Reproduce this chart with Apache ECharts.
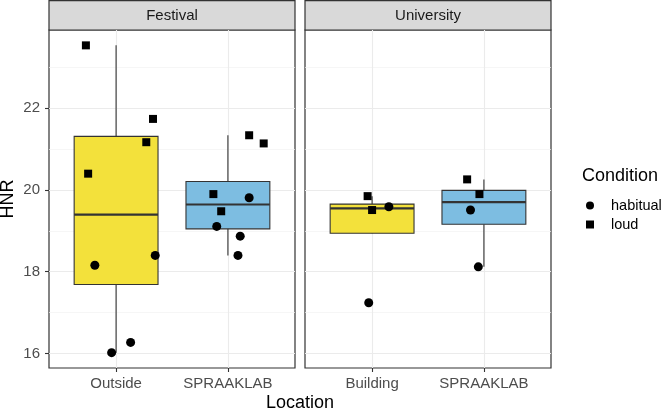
<!DOCTYPE html>
<html>
<head>
<meta charset="utf-8">
<script src="https://cdn.jsdelivr.net/npm/echarts@6/dist/echarts.min.js"></script>
<style>
  html, body { margin: 0; padding: 0; background: #fff; }
  #chart { width: 665px; height: 411px; }
</style>
</head>
<body>
<div id="chart"></div>
<script>
// facets and locations
const festivalLocations = ['Outside', 'SPRAAKLAB']
const universityLocations = ['Building', 'SPRAAKLAB']

// Festival / Outside
const festOutsideHNR = [23.54, 21.74, 21.17, 20.40, 18.16, 18.40, 16.02, 16.27]
const festOutsideCond = ['loud', 'loud', 'loud', 'loud', 'habitual', 'habitual', 'habitual', 'habitual']
const festOutsideJitter = [-0.27, 0.33, 0.27, -0.25, -0.19, 0.35, -0.04, 0.13]

// Festival / SPRAAKLAB
const festLabHNR = [19.90, 21.34, 21.14, 19.48, 19.81, 19.11, 18.87, 18.40]
const festLabCond = ['loud', 'loud', 'loud', 'loud', 'habitual', 'habitual', 'habitual', 'habitual']
const festLabJitter = [-0.13, 0.19, 0.32, -0.06, 0.19, -0.10, 0.11, 0.09]

// University / Building
const uniBuildingHNR = [19.85, 19.51, 19.59, 17.24]
const uniBuildingCond = ['loud', 'loud', 'habitual', 'habitual']
const uniBuildingJitter = [-0.04, 0.00, 0.15, -0.03]

// University / SPRAAKLAB
const uniLabHNR = [20.26, 19.90, 19.51, 18.12]
const uniLabCond = ['loud', 'loud', 'habitual', 'habitual']
const uniLabJitter = [-0.15, -0.04, -0.12, -0.05]

const yTicks = [16, 18, 20, 22]
const yMinorTicks = [17, 19, 21, 23]
const xTicks = [1, 2]

const boxFill = ['#F3E13B', '#7DBDE1']
const FONT = '"Liberation Sans", Arial, Helvetica, sans-serif'

function quantile(sorted, p) {
  const h = (sorted.length - 1) * p
  const lo = Math.floor(h)
  const hi = Math.min(lo + 1, sorted.length - 1)
  return sorted[lo] + (h - lo) * (sorted[hi] - sorted[lo])
}

// [x, lower whisker, q1, median, q3, upper whisker, fill index]
function boxStats(values, x) {
  const s = values.slice().sort((a, b) => a - b)
  const q1 = quantile(s, 0.25)
  const med = quantile(s, 0.5)
  const q3 = quantile(s, 0.75)
  const iqr = q3 - q1
  const inside = s.filter(v => v >= q1 - 1.5 * iqr && v <= q3 + 1.5 * iqr)
  return [x, inside[0], q1, med, q3, inside[inside.length - 1], x - 1]
}

function points(values, conds, jitter, x, cond) {
  const out = []
  values.forEach((v, i) => {
    if (conds[i] === cond) out.push([x + jitter[i], v])
  })
  return out
}

const allHNR = [].concat(festOutsideHNR, festLabHNR, uniBuildingHNR, uniLabHNR)
const dMin = Math.min(...allHNR)
const dMax = Math.max(...allHNR)
const yMin = dMin - 0.05 * (dMax - dMin)
const yMax = dMax + 0.05 * (dMax - dMin)

function renderBox(params, api) {
  const x = api.value(0)
  const lo = api.value(1)
  const q1 = api.value(2)
  const med = api.value(3)
  const q3 = api.value(4)
  const hi = api.value(5)
  const half = 0.375
  const c = v => api.coord([x, v])
  const tl = api.coord([x - half, q3])
  const br = api.coord([x + half, q1])
  const m1 = api.coord([x - half, med])
  const m2 = api.coord([x + half, med])
  const stroke = '#333333'
  return {
    type: 'group',
    children: [
      { type: 'line', shape: { x1: c(q3)[0], y1: c(q3)[1], x2: c(hi)[0], y2: c(hi)[1] }, style: { stroke, lineWidth: 1.1 } },
      { type: 'line', shape: { x1: c(q1)[0], y1: c(q1)[1], x2: c(lo)[0], y2: c(lo)[1] }, style: { stroke, lineWidth: 1.1 } },
      { type: 'rect', shape: { x: tl[0], y: tl[1], width: br[0] - tl[0], height: br[1] - tl[1] }, style: { fill: boxFill[api.value(6)], stroke, lineWidth: 1.1 } },
      { type: 'line', shape: { x1: m1[0], y1: m1[1], x2: m2[0], y2: m2[1] }, style: { stroke, lineWidth: 2.2 } }
    ]
  }
}

function xAxis(gridIndex, names) {
  return {
    type: 'value',
    gridIndex,
    min: 0.4,
    max: 2.6,
    axisLine: { show: false },
    axisTick: { show: true, length: 4, customValues: xTicks, lineStyle: { color: '#333', width: 1.1 } },
    axisLabel: {
      customValues: xTicks,
      margin: 8,
      color: '#4D4D4D',
      fontSize: 15,
      fontFamily: FONT,
      formatter: v => names[Math.round(v) - 1]
    },
    splitLine: { show: true, lineStyle: { color: '#EBEBEB', width: 1.1 } }
  }
}

function yAxis(gridIndex, labels) {
  return {
    type: 'value',
    gridIndex,
    min: yMin,
    max: yMax,
    axisLine: { show: false },
    axisTick: { show: labels, length: 4, customValues: yTicks, lineStyle: { color: '#333', width: 1.1 } },
    axisLabel: {
      show: labels,
      customValues: yTicks,
      margin: 9,
      color: '#4D4D4D',
      fontSize: 15,
      fontFamily: FONT
    },
    splitLine: { show: true, lineStyle: { color: '#EBEBEB', width: 1.1 } }
  }
}

function yMinorAxis(gridIndex) {
  return {
    type: 'value',
    gridIndex,
    min: yMin,
    max: yMax,
    axisLine: { show: false },
    axisTick: { show: false, customValues: yMinorTicks },
    axisLabel: { show: false, customValues: yMinorTicks },
    splitLine: { show: true, lineStyle: { color: '#F2F2F2', width: 0.7 } }
  }
}

function scatter(name, data, xi, yi, symbol, size) {
  return {
    type: 'scatter',
    name,
    xAxisIndex: xi,
    yAxisIndex: yi,
    symbol,
    symbolSize: size,
    itemStyle: { color: '#000', opacity: 1 },
    z: 5,
    silent: true,
    data
  }
}

const chart = echarts.init(document.getElementById('chart'))

chart.setOption({
  animation: false,
  backgroundColor: '#fff',
  textStyle: { fontFamily: FONT },
  grid: [
    { left: 49, top: 30, width: 246, height: 338, show: true, borderColor: '#333', borderWidth: 1.2, backgroundColor: 'transparent' },
    { left: 305, top: 30, width: 246, height: 338, show: true, borderColor: '#333', borderWidth: 1.2, backgroundColor: 'transparent' }
  ],
  xAxis: [xAxis(0, festivalLocations), xAxis(1, universityLocations)],
  yAxis: [yAxis(0, true), yAxis(1, false), yMinorAxis(0), yMinorAxis(1)],
  legend: {
    orient: 'vertical',
    left: 586,
    top: 198,
    width: 79,
    padding: 0,
    itemWidth: 8,
    itemHeight: 8,
    itemGap: 4,
    selectedMode: false,
    itemStyle: { opacity: 1 },
    textStyle: { fontSize: 14.5, color: '#000', fontFamily: FONT, padding: [0, 0, 0, 12], overflow: 'none' },
    data: [
      { name: 'habitual', icon: 'circle' },
      { name: 'loud', icon: 'rect' }
    ]
  },
  graphic: [
    { type: 'rect', shape: { x: 49, y: 0.6, width: 246, height: 29.4 }, style: { fill: '#D9D9D9', stroke: '#333', lineWidth: 1.2 } },
    { type: 'rect', shape: { x: 305, y: 0.6, width: 246, height: 29.4 }, style: { fill: '#D9D9D9', stroke: '#333', lineWidth: 1.2 } },
    { type: 'text', x: 172, y: 15.5, style: { text: 'Festival', fill: '#1A1A1A', fontSize: 15, fontFamily: FONT, align: 'center', verticalAlign: 'middle' } },
    { type: 'text', x: 428, y: 15.5, style: { text: 'University', fill: '#1A1A1A', fontSize: 15, fontFamily: FONT, align: 'center', verticalAlign: 'middle' } },
    { type: 'text', x: 300, y: 403, style: { text: 'Location', fill: '#000', fontSize: 18, fontFamily: FONT, align: 'center', verticalAlign: 'middle' } },
    { type: 'text', x: 8, y: 199, rotation: Math.PI / 2, style: { text: 'HNR', fill: '#000', fontSize: 18, fontFamily: FONT, align: 'center', verticalAlign: 'middle' } },
    { type: 'text', x: 582, y: 176, style: { text: 'Condition', fill: '#000', fontSize: 18, fontFamily: FONT, align: 'left', verticalAlign: 'middle' } }
  ],
  series: [
    {
      type: 'custom',
      xAxisIndex: 0,
      yAxisIndex: 0,
      renderItem: renderBox,
      encode: { x: 0, y: [1, 2, 3, 4, 5] },
      silent: true,
      z: 2,
      data: [boxStats(festOutsideHNR, 1), boxStats(festLabHNR, 2)]
    },
    {
      type: 'custom',
      xAxisIndex: 1,
      yAxisIndex: 1,
      renderItem: renderBox,
      encode: { x: 0, y: [1, 2, 3, 4, 5] },
      silent: true,
      z: 2,
      data: [boxStats(uniBuildingHNR, 1), boxStats(uniLabHNR, 2)]
    },
    scatter('habitual', points(festOutsideHNR, festOutsideCond, festOutsideJitter, 1, 'habitual')
      .concat(points(festLabHNR, festLabCond, festLabJitter, 2, 'habitual')), 0, 0, 'circle', 9),
    scatter('loud', points(festOutsideHNR, festOutsideCond, festOutsideJitter, 1, 'loud')
      .concat(points(festLabHNR, festLabCond, festLabJitter, 2, 'loud')), 0, 0, 'rect', 8),
    scatter('habitual', points(uniBuildingHNR, uniBuildingCond, uniBuildingJitter, 1, 'habitual')
      .concat(points(uniLabHNR, uniLabCond, uniLabJitter, 2, 'habitual')), 1, 1, 'circle', 9),
    scatter('loud', points(uniBuildingHNR, uniBuildingCond, uniBuildingJitter, 1, 'loud')
      .concat(points(uniLabHNR, uniLabCond, uniLabJitter, 2, 'loud')), 1, 1, 'rect', 8)
  ]
})
</script>
</body>
</html>
